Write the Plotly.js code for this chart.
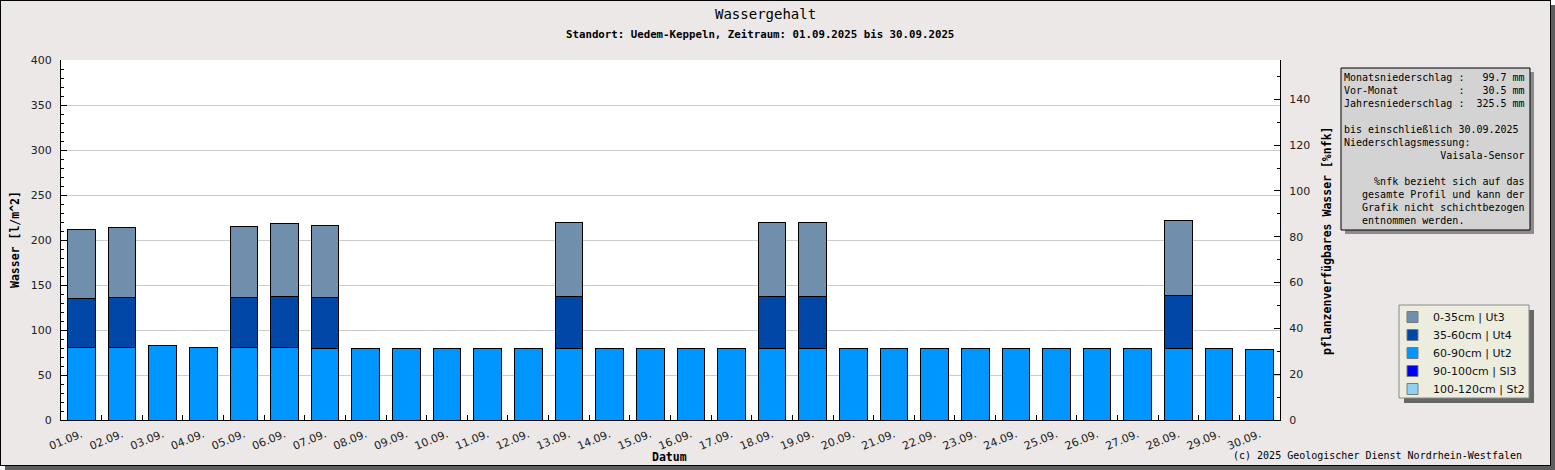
<!DOCTYPE html>
<html>
<head>
<meta charset="utf-8">
<script src="https://cdn.plot.ly/plotly-3.0.1.min.js"></script>
<style>
body { margin: 0; background: #ffffff; }
#chart { position: absolute; left: 0; top: 0; width: 1549px; height: 464px;
         border: 1px solid #000; box-shadow: 5px 5px 0 #5e5e5e; background: #ebe8e7; }
</style>
</head>
<body>
<div id="chart"></div>
<script>
// days of September 2025
var days = ['01.09.','02.09.','03.09.','04.09.','05.09.','06.09.','07.09.','08.09.','09.09.','10.09.',
            '11.09.','12.09.','13.09.','14.09.','15.09.','16.09.','17.09.','18.09.','19.09.','20.09.',
            '21.09.','22.09.','23.09.','24.09.','25.09.','26.09.','27.09.','28.09.','29.09.','30.09.'];

// water per layer in l/m^2 (null = no value for that day)
var w0_35 = [76.8, 77.7, null, null, 78.9, 81.1, 80.0, null, null, null,
             null, null, 82.7, null, null, null, null, 82.7, 82.7, null,
             null, null, null, null, null, null, null, 83.5, null, null];
var w35_60 = [54.4, 55.5, null, null, 55.5, 56.6, 56.6, null, null, null,
              null, null, 57.5, null, null, null, null, 57.5, 57.5, null,
              null, null, null, null, null, null, null, 58.9, null, null];
var w60_90 = [80.8, 80.8, 83.0, 80.8, 80.8, 80.8, 79.7, 79.7, 79.7, 79.8,
              79.8, 79.8, 79.8, 79.8, 79.8, 79.8, 79.8, 79.8, 79.8, 79.8,
              79.8, 79.8, 79.8, 79.8, 79.8, 79.8, 79.8, 79.8, 79.8, 78.7];
var w90_100 = days.map(function () { return null; });
var w100_120 = days.map(function () { return null; });

// bottom to top of the stack
var layerNames = ['100-120cm | St2', '90-100cm | Sl3', '60-90cm | Ut2', '35-60cm | Ut4', '0-35cm | Ut3'];
var layerColors = ['#8fd1f2', '#0000ee', '#0096ff', '#0047a8', '#6f8fad'];
var layerValues = [w100_120, w90_100, w60_90, w35_60, w0_35];

var infoLines = [
  'Monatsniederschlag :   99.7 mm',
  'Vor-Monat          :   30.5 mm',
  'Jahresniederschlag :  325.5 mm',
  '',
  'bis einschließlich 30.09.2025',
  'Niederschlagsmessung:',
  '                Vaisala-Sensor',
  '',
  '     %nfk bezieht sich auf das',
  '   gesamte Profil und kann der',
  '   Grafik nicht schichtbezogen',
  '   entnommen werden.'
];

// page pixel -> paper coordinates (plot area: x 61..1280, y 60..420)
function px(x) { return (x - 61) / 1219; }
function py(y) { return (420 - y) / 360; }

var mono = 'DejaVu Sans Mono, Liberation Mono, monospace';
var sans = 'DejaVu Sans, sans-serif';

var data = layerValues.map(function (vals, i) {
  return {
    type: 'bar', x: days, y: vals, name: layerNames[i],
    marker: { color: layerColors[i], line: { color: '#000', width: 1 } }
  };
});
// empty trace so the %nfk axis on the right gets drawn
data.push({ type: 'scatter', mode: 'lines', x: days, y: days.map(function () { return null; }),
            yaxis: 'y2', showlegend: false, hoverinfo: 'skip' });

function ann(text, x, y, size, extra) {
  var a = { text: text, xref: 'paper', yref: 'paper', x: px(x), y: py(y), showarrow: false,
            xanchor: 'center', yanchor: 'middle', font: { family: mono, size: size, color: '#000' } };
  for (var k in extra) a[k] = extra[k];
  return a;
}

var shapes = [
  // info box shadow + box
  { type: 'rect', xref: 'paper', yref: 'paper', x0: px(1345), x1: px(1534), y0: py(72), y1: py(234),
    fillcolor: '#8c8c8c', line: { width: 0 } },
  { type: 'rect', xref: 'paper', yref: 'paper', x0: px(1341), x1: px(1530), y0: py(68), y1: py(230),
    fillcolor: '#d3d3d3', line: { color: '#000', width: 1 } },
  // legend shadow + box
  { type: 'rect', xref: 'paper', yref: 'paper', x0: px(1404), x1: px(1534), y0: py(310), y1: py(403),
    fillcolor: '#666666', line: { width: 0 } },
  { type: 'rect', xref: 'paper', yref: 'paper', x0: px(1399), x1: px(1529), y0: py(305), y1: py(398),
    fillcolor: '#ededdf', line: { color: '#8a8a8a', width: 1 } }
];

var annotations = [
  ann('Wassergehalt', 765, 14, 14),
  ann('<b>Standort: Uedem-Keppeln, Zeitraum: 01.09.2025 bis 30.09.2025</b>', 760, 34, 10.75),
  ann('<b>Wasser [l/m^2]</b>', 15, 240, 11.5, { textangle: -90 }),
  ann('<b>pflanzenverfügbares Wasser [%nfk]</b>', 1327, 241, 11.5, { textangle: -90 }),
  ann('<b>Datum</b>', 669, 457, 11.5),
  ann('(c) 2025 Geologischer Dienst Nordrhein-Westfalen', 1524, 455, 10, { xanchor: 'right' }),
  ann(infoLines.map(function (s) { return s.replace(/ /g, '\u00a0') || '\u00a0'; }).join('<br>'),
      1343, 71, 10, { xanchor: 'left', yanchor: 'top', align: 'left', borderpad: 0 })
];

// legend, top row = top of the stack
for (var i = 0; i < layerNames.length; i++) {
  var j = layerNames.length - 1 - i;
  var yc = 317 + i * 18;
  shapes.push({ type: 'rect', xref: 'paper', yref: 'paper', x0: px(1407), x1: px(1418),
                y0: py(yc - 5.5), y1: py(yc + 5.5), fillcolor: layerColors[j],
                line: { color: '#7a7a7a', width: 1 } });
  annotations.push(ann(layerNames[j], 1431, yc, 11,
                       { xanchor: 'left', font: { family: sans, size: 11, color: '#111' } }));
}

var layout = {
  width: 1549, height: 464,
  margin: { l: 60, r: 270, t: 59, b: 45 },
  paper_bgcolor: 'rgba(0,0,0,0)', plot_bgcolor: '#ffffff',
  barmode: 'stack', bargap: 0.32,
  showlegend: false,
  xaxis: {
    type: 'category', tickangle: -22, tickson: 'boundaries',
    ticks: 'inside', ticklen: 5, tickcolor: '#000', ticklabelstandoff: 3,
    showline: true, linecolor: '#000', linewidth: 1,
    showgrid: false, tickfont: { family: sans, size: 11, color: '#222' }
  },
  yaxis: {
    range: [0, 400], dtick: 50, ticks: 'inside', ticklen: 6, tickcolor: '#000',
    minor: { dtick: 10, ticks: 'inside', ticklen: 3, tickcolor: '#000', showgrid: false },
    showline: true, linecolor: '#000', linewidth: 1, zeroline: false,
    gridcolor: '#cccccc', ticklabelstandoff: 6,
    tickfont: { family: sans, size: 11, color: '#222' }
  },
  yaxis2: {
    overlaying: 'y', side: 'right', anchor: 'x',
    range: [0, 157.2], dtick: 20, ticks: 'inside', ticklen: 6, tickcolor: '#000',
    minor: { dtick: 10, ticks: 'inside', ticklen: 3, tickcolor: '#000', showgrid: false },
    showline: true, linecolor: '#000', linewidth: 1, zeroline: false, showgrid: false,
    ticklabelstandoff: 6, tickfont: { family: sans, size: 11, color: '#222' }
  },
  shapes: shapes,
  annotations: annotations
};

Plotly.newPlot('chart', data, layout, { displayModeBar: false, staticPlot: true });
</script>
</body>
</html>
